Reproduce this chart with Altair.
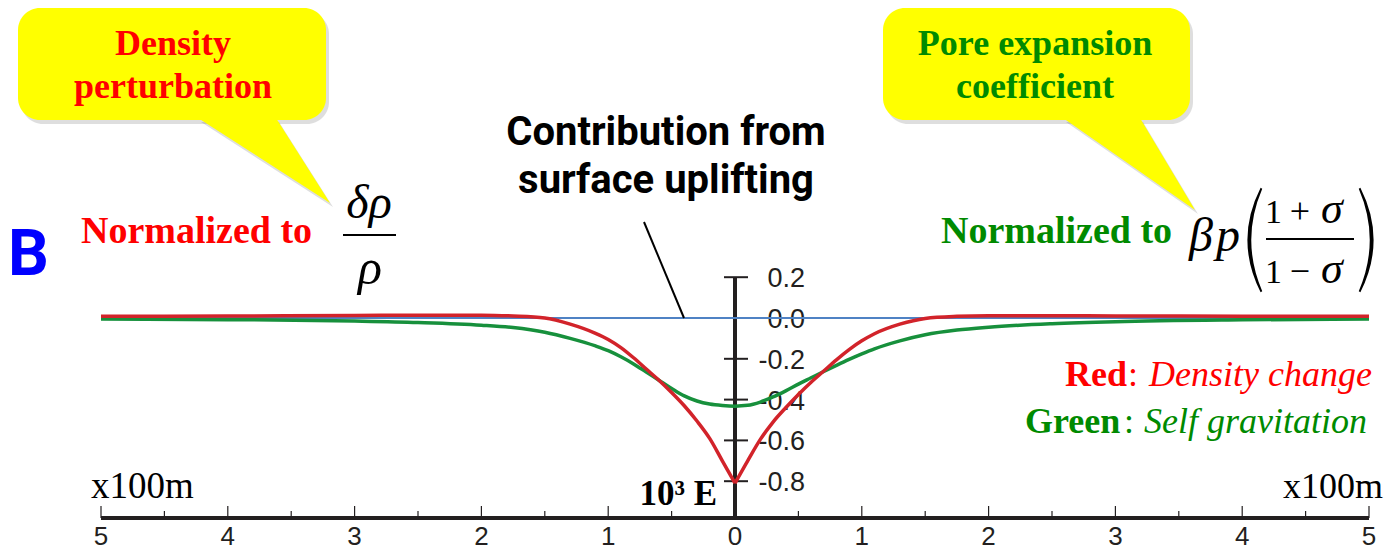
import altair as alt
import pandas as pd

# ---------------- data ----------------
x_vals = [-5, -4, -3, -2.5, -2, -1.75, -1.5, -1.3, -1.1, -1.0, -0.9, -0.8, -0.7, -0.6, -0.5, -0.4, -0.3, -0.2, -0.1, 0,
          0.1, 0.2, 0.3, 0.4, 0.5, 0.6, 0.7, 0.8, 0.9, 1.0, 1.1, 1.3, 1.5, 1.75, 2, 2.5, 3, 4, 5]
red_vals = [0.008, 0.010, 0.012, 0.014, 0.014, 0.010, 0.000, -0.030, -0.075, -0.105, -0.145, -0.195, -0.250, -0.305,
            -0.365, -0.430, -0.505, -0.590, -0.700, -0.810,
            -0.700, -0.595, -0.510, -0.440, -0.375, -0.315, -0.260, -0.205, -0.155, -0.112, -0.077, -0.030, -0.002,
            0.008, 0.011, 0.011, 0.010, 0.009, 0.008]
green_vals = [-0.005, -0.008, -0.015, -0.022, -0.035, -0.047, -0.070, -0.100, -0.137, -0.160, -0.190, -0.225, -0.265,
              -0.305, -0.345, -0.382, -0.407, -0.422, -0.429, -0.432,
              -0.428, -0.412, -0.387, -0.357, -0.324, -0.293, -0.262, -0.232, -0.203, -0.176, -0.151, -0.112, -0.082,
              -0.059, -0.045, -0.028, -0.018, -0.009, -0.005]
blue_x = [-5.0, 5.0]
blue_vals = [0.0, 0.0]

x_tick_major = [-5, -4, -3, -2, -1, 0, 1, 2, 3, 4, 5]
x_tick_labels = ["5", "4", "3", "2", "1", "0", "1", "2", "3", "4", "5"]
x_tick_minor = [-4.5, -3.5, -2.5, -1.5, -0.5, 0.5, 1.5, 2.5, 3.5, 4.5]
y_tick_vals = [0.2, 0.0, -0.2, -0.4, -0.6, -0.8]
y_tick_labels = ["0.2", "0.0", "-0.2", "-0.4", "-0.6", "-0.8"]

# ---------------- frames ----------------
red_rows = []
for x, v in zip(x_vals, red_vals):
    if x <= 0:
        red_rows.append({"x": x, "v": v, "side": "L"})
    if x >= 0:
        red_rows.append({"x": x, "v": v, "side": "R"})
red_df = pd.DataFrame(red_rows)
green_df = pd.DataFrame({"x": x_vals, "v": green_vals})
blue_df = pd.DataFrame({"x": blue_x, "v": blue_vals})
xmaj_df = pd.DataFrame({"x": x_tick_major, "lab": x_tick_labels})
xmin_df = pd.DataFrame({"x": x_tick_minor})
ytick_df = pd.DataFrame({"y": y_tick_vals, "lab": y_tick_labels})
xaxis_df = pd.DataFrame({"x": [x_tick_major[0]], "x2": [x_tick_major[-1]]})
yaxis_df = pd.DataFrame({"x": [0], "y": [y_tick_vals[0]]})
one = pd.DataFrame({"k": [0]})

W, H = 1377, 543
def px(v):
    return v - 8
def py(v):
    return v - 8

xs = alt.Scale(domain=[-5, 5], range=[px(98), px(1366)])
ys = alt.Scale(domain=[-0.8, 0.2], range=[py(481.2), py(277.2)])
X = lambda f="x": alt.X(f"{f}:Q", scale=xs, axis=None)
Y = lambda f="v": alt.Y(f"{f}:Q", scale=ys, axis=None)

AX = "#231f20"
RED_T = "#ff0000"
GRN_T = "#008a00"
YEL = "#ffff00"
SERIF = "Liberation Serif"
SANS = "Liberation Sans"


def txt(s, x, y, size, color="#000000", font=SERIF, weight="normal", style="normal", align="left",
        baseline="alphabetic"):
    return alt.Chart(one).mark_text(text=s, font=font, fontSize=size, fontWeight=weight, fontStyle=style,
                                    color=color, align=align, baseline=baseline).encode(
        x=alt.value(px(x)), y=alt.value(py(y)))


def hrule(x1, x2, y, w=2, color="#000000"):
    return alt.Chart(one).mark_rule(color=color, strokeWidth=w).encode(
        x=alt.value(px(x1)), x2=alt.value(px(x2)), y=alt.value(py(y)))


def bubble(x1, x2, y1, y2):
    shadow = alt.Chart(one).mark_rect(cornerRadius=22, color="#000000", opacity=0.13).encode(
        x=alt.value(px(x1 + 3)), x2=alt.value(px(x2 + 3)), y=alt.value(py(y1 + 4)), y2=alt.value(py(y2 + 4)))
    body = alt.Chart(one).mark_rect(cornerRadius=22, color=YEL).encode(
        x=alt.value(px(x1)), x2=alt.value(px(x2)), y=alt.value(py(y1)), y2=alt.value(py(y2)))
    return shadow + body


def shape(path, cx, cy, size, color, opacity=1.0):
    return alt.Chart(one).mark_point(shape=path, size=size, filled=True, color=color, opacity=opacity,
                                     strokeWidth=0).encode(x=alt.value(px(cx)), y=alt.value(py(cy)))


# ---------------- callouts ----------------
tail_l = "M -0.66 -0.42 L 0.12 -0.42 L 0.66 0.43 Z"
tail_r = "M -0.66 -0.47 L 0.11 -0.47 L 0.66 0.45 Z"
callouts = [
    shape(tail_l, 264, 164, 40000, "#000000", 0.13),
    shape(tail_r, 1129, 169, 40000, "#000000", 0.13),
    bubble(15, 323, 8, 120),
    bubble(880, 1187, 8, 120),
    shape(tail_l, 261, 160, 40000, YEL),
    shape(tail_r, 1126, 165, 40000, YEL),
    txt("Density", 170, 55, 36, RED_T, weight="bold", align="center"),
    txt("perturbation", 170, 98, 36, RED_T, weight="bold", align="center"),
    txt("Pore expansion", 1032, 55, 36, GRN_T, weight="bold", align="center"),
    txt("coefficient", 1032, 98, 36, GRN_T, weight="bold", align="center"),
]

# ---------------- formulas and labels ----------------
paren_l = "M 0.12 -0.95 Q -0.36 0 0.12 0.95 L 0.15 0.93 Q -0.25 0 0.15 -0.93 Z"
paren_r = "M -0.12 -0.95 Q 0.36 0 -0.12 0.95 L -0.15 0.93 Q 0.25 0 -0.15 -0.93 Z"
texts = [
    txt("B", 5, 275, 64, "#0000ff", font="Roboto", weight="bold"),
    txt("Normalized to", 78, 243, 38, RED_T, weight="bold"),
    txt("δρ", 366, 218, 48, style="italic", align="center"),
    hrule(340, 393, 235, 2),
    txt("ρ", 367, 284, 50, style="italic", align="center"),
    txt("Normalized to", 938, 243, 38, GRN_T, weight="bold"),
    txt("β", 1186, 251, 48, style="italic"),
    txt("p", 1213, 251, 48, style="italic"),
    shape(paren_l, 1251, 240, 12100, "#000000"),
    shape(paren_r, 1364, 240, 12100, "#000000"),
    txt("1", 1262, 223, 34),
    txt("+", 1297, 223, 36, align="center"),
    txt("σ", 1318, 223, 44, style="italic"),
    hrule(1263, 1351, 239, 2),
    txt("1", 1262, 283, 34),
    txt("−", 1297, 283, 36, align="center"),
    txt("σ", 1318, 283, 44, style="italic"),
    txt("Contribution from", 663, 145, 40, font="Roboto", weight="bold", align="center"),
    txt("surface uplifting", 663, 193, 40, font="Roboto", weight="bold", align="center"),
    alt.Chart(one).mark_rule(color="#000000", strokeWidth=2).encode(
        x=alt.value(px(641)), x2=alt.value(px(681)), y=alt.value(py(222)), y2=alt.value(py(318))),
    txt("Red", 1062, 386, 36, RED_T, weight="bold"),
    txt(":", 1125, 386, 36, RED_T),
    txt("Density change", 1146, 386, 36, RED_T, style="italic"),
    txt("Green", 1022, 433, 36, GRN_T, weight="bold"),
    txt(":", 1121, 433, 36, GRN_T),
    txt("Self gravitation", 1141, 433, 36, GRN_T, style="italic"),
    txt("x100m", 88, 498, 37),
    txt("x100m", 1380, 498, 36, align="right"),
    txt("10³ E", 714, 505, 35, weight="bold", align="right"),
]

# ---------------- axes ----------------
axes = [
    alt.Chart(xaxis_df).mark_rule(color=AX, strokeWidth=4).encode(x=X("x"), x2="x2", y=alt.value(py(518))),
    alt.Chart(xmaj_df).mark_rule(color=AX, strokeWidth=1.2).encode(x=X("x"), y=alt.value(py(506)),
                                                                   y2=alt.value(py(518))),
    alt.Chart(xmin_df).mark_rule(color=AX, strokeWidth=1.2).encode(x=X("x"), y=alt.value(py(511)),
                                                                   y2=alt.value(py(518))),
    alt.Chart(xmaj_df).mark_text(font=SANS, fontSize=26, color=AX, align="center", baseline="alphabetic").encode(
        x=X("x"), y=alt.value(py(545)), text="lab:N"),
    alt.Chart(yaxis_df).mark_rule(color=AX, strokeWidth=4).encode(x=X("x"), y=Y("y"), y2=alt.value(py(518))),
    alt.Chart(ytick_df).mark_rule(color=AX, strokeWidth=2).encode(x=alt.value(px(721)), x2=alt.value(px(745)),
                                                                  y=Y("y")),
    alt.Chart(ytick_df).mark_text(font=SANS, fontSize=27, color=AX, align="right", baseline="middle", dy=2).encode(
        x=alt.value(px(802)), y=Y("y"), text="lab:N"),
]

# ---------------- curves ----------------
curves = [
    alt.Chart(blue_df).mark_line(color="#4f82c4", strokeWidth=2).encode(x=X(), y=Y()),
    alt.Chart(green_df).mark_line(color="#17903c", strokeWidth=3.5, interpolate="monotone").encode(x=X(), y=Y()),
    alt.Chart(red_df).mark_line(color="#d2232a", strokeWidth=3.5, interpolate="monotone").encode(
        x=X(), y=Y(), detail="side:N"),
]

chart = alt.layer(*callouts, *axes, *curves, *texts).properties(
    width=W, height=H, padding=0,
    autosize=alt.AutoSizeParams(type="fit", contains="padding"),
).configure(background="#ffffff").configure_view(stroke=None)

chart.save("out.html", embed_options={"renderer": "svg", "actions": False})
